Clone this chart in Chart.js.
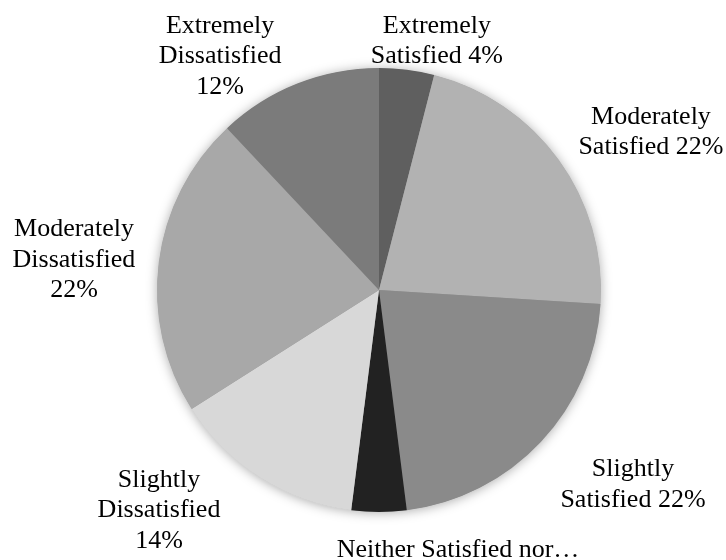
<!DOCTYPE html>
<html>
<head>
<meta charset="utf-8">
<script src="https://cdn.jsdelivr.net/npm/chart.js@4"></script>
<style>
  html, body { margin: 0; padding: 0; background: #ffffff; }
  #wrap { width: 726px; height: 560px; position: relative; }
</style>
</head>
<body>
<div id="wrap"><canvas id="c" width="726" height="560"></canvas></div>
<script>
// ---- data ----
const categories = [
  "Extremely Satisfied",
  "Moderately Satisfied",
  "Slightly Satisfied",
  "Neither Satisfied nor Dissatisfied",
  "Slightly Dissatisfied",
  "Moderately Dissatisfied",
  "Extremely Dissatisfied"
];
const values = [4, 22, 22, 4, 14, 22, 12];
const labelLines = [
  ["Extremely", "Satisfied 4%"],
  ["Moderately", "Satisfied 22%"],
  ["Slightly", "Satisfied 22%"],
  ["Neither Satisfied nor\u2026"],
  ["Slightly", "Dissatisfied", "14%"],
  ["Moderately", "Dissatisfied", "22%"],
  ["Extremely", "Dissatisfied", "12%"]
];

// ---- styles / layout ----
const sliceColors = ["#5f5f5f", "#b2b2b2", "#8a8a8a", "#222222", "#d8d8d8", "#a8a8a8", "#7b7b7b"];
// label anchor (centre x, first baseline y) relative to pie centre, in units of radius
const labelAnchor = [
  [0.261, -1.158],
  [1.225, -0.748],
  [1.144, 0.838],
  [0.356, 1.203],
  [-0.991, 0.887],
  [-1.374, -0.243],
  [-0.716, -1.158]
];
const FONT = "26px 'Liberation Serif', 'Times New Roman', serif";
const LINE_H = 30.5;

const shadowPlugin = {
  id: 'pieShadow',
  beforeDatasetsDraw(chart) {
    const meta = chart.getDatasetMeta(0);
    if (!meta.data.length) return;
    const a = meta.data[0];
    const ctx = chart.ctx;
    ctx.save();
    ctx.shadowColor = 'rgba(0,0,0,0.35)';
    ctx.shadowBlur = 12;
    ctx.shadowOffsetX = 0;
    ctx.shadowOffsetY = 1;
    ctx.fillStyle = '#999999';
    ctx.beginPath();
    ctx.arc(a.x, a.y, a.outerRadius - 0.5, 0, Math.PI * 2);
    ctx.fill();
    ctx.restore();
  }
};

const labelPlugin = {
  id: 'outerLabels',
  afterDatasetsDraw(chart) {
    const meta = chart.getDatasetMeta(0);
    const ctx = chart.ctx;
    ctx.save();
    ctx.font = FONT;
    ctx.fillStyle = '#000000';
    ctx.textAlign = 'center';
    ctx.textBaseline = 'alphabetic';
    meta.data.forEach((arc, i) => {
      const r = arc.outerRadius;
      const cx = arc.x + labelAnchor[i][0] * r;
      const by = arc.y + labelAnchor[i][1] * r;
      labelLines[i].forEach((line, k) => {
        ctx.fillText(line, cx, by + k * LINE_H);
      });
    });
    ctx.restore();
  }
};

new Chart(document.getElementById('c'), {
  type: 'pie',
  data: {
    labels: categories,
    datasets: [{
      data: values,
      backgroundColor: sliceColors,
      borderWidth: 0,
      hoverOffset: 0
    }]
  },
  options: {
    responsive: false,
    animation: false,
    layout: { padding: { left: 157, right: 125, top: 68, bottom: 48 } },
    plugins: {
      legend: { display: false },
      tooltip: { enabled: false }
    }
  },
  plugins: [shadowPlugin, labelPlugin]
});
</script>
</body>
</html>
